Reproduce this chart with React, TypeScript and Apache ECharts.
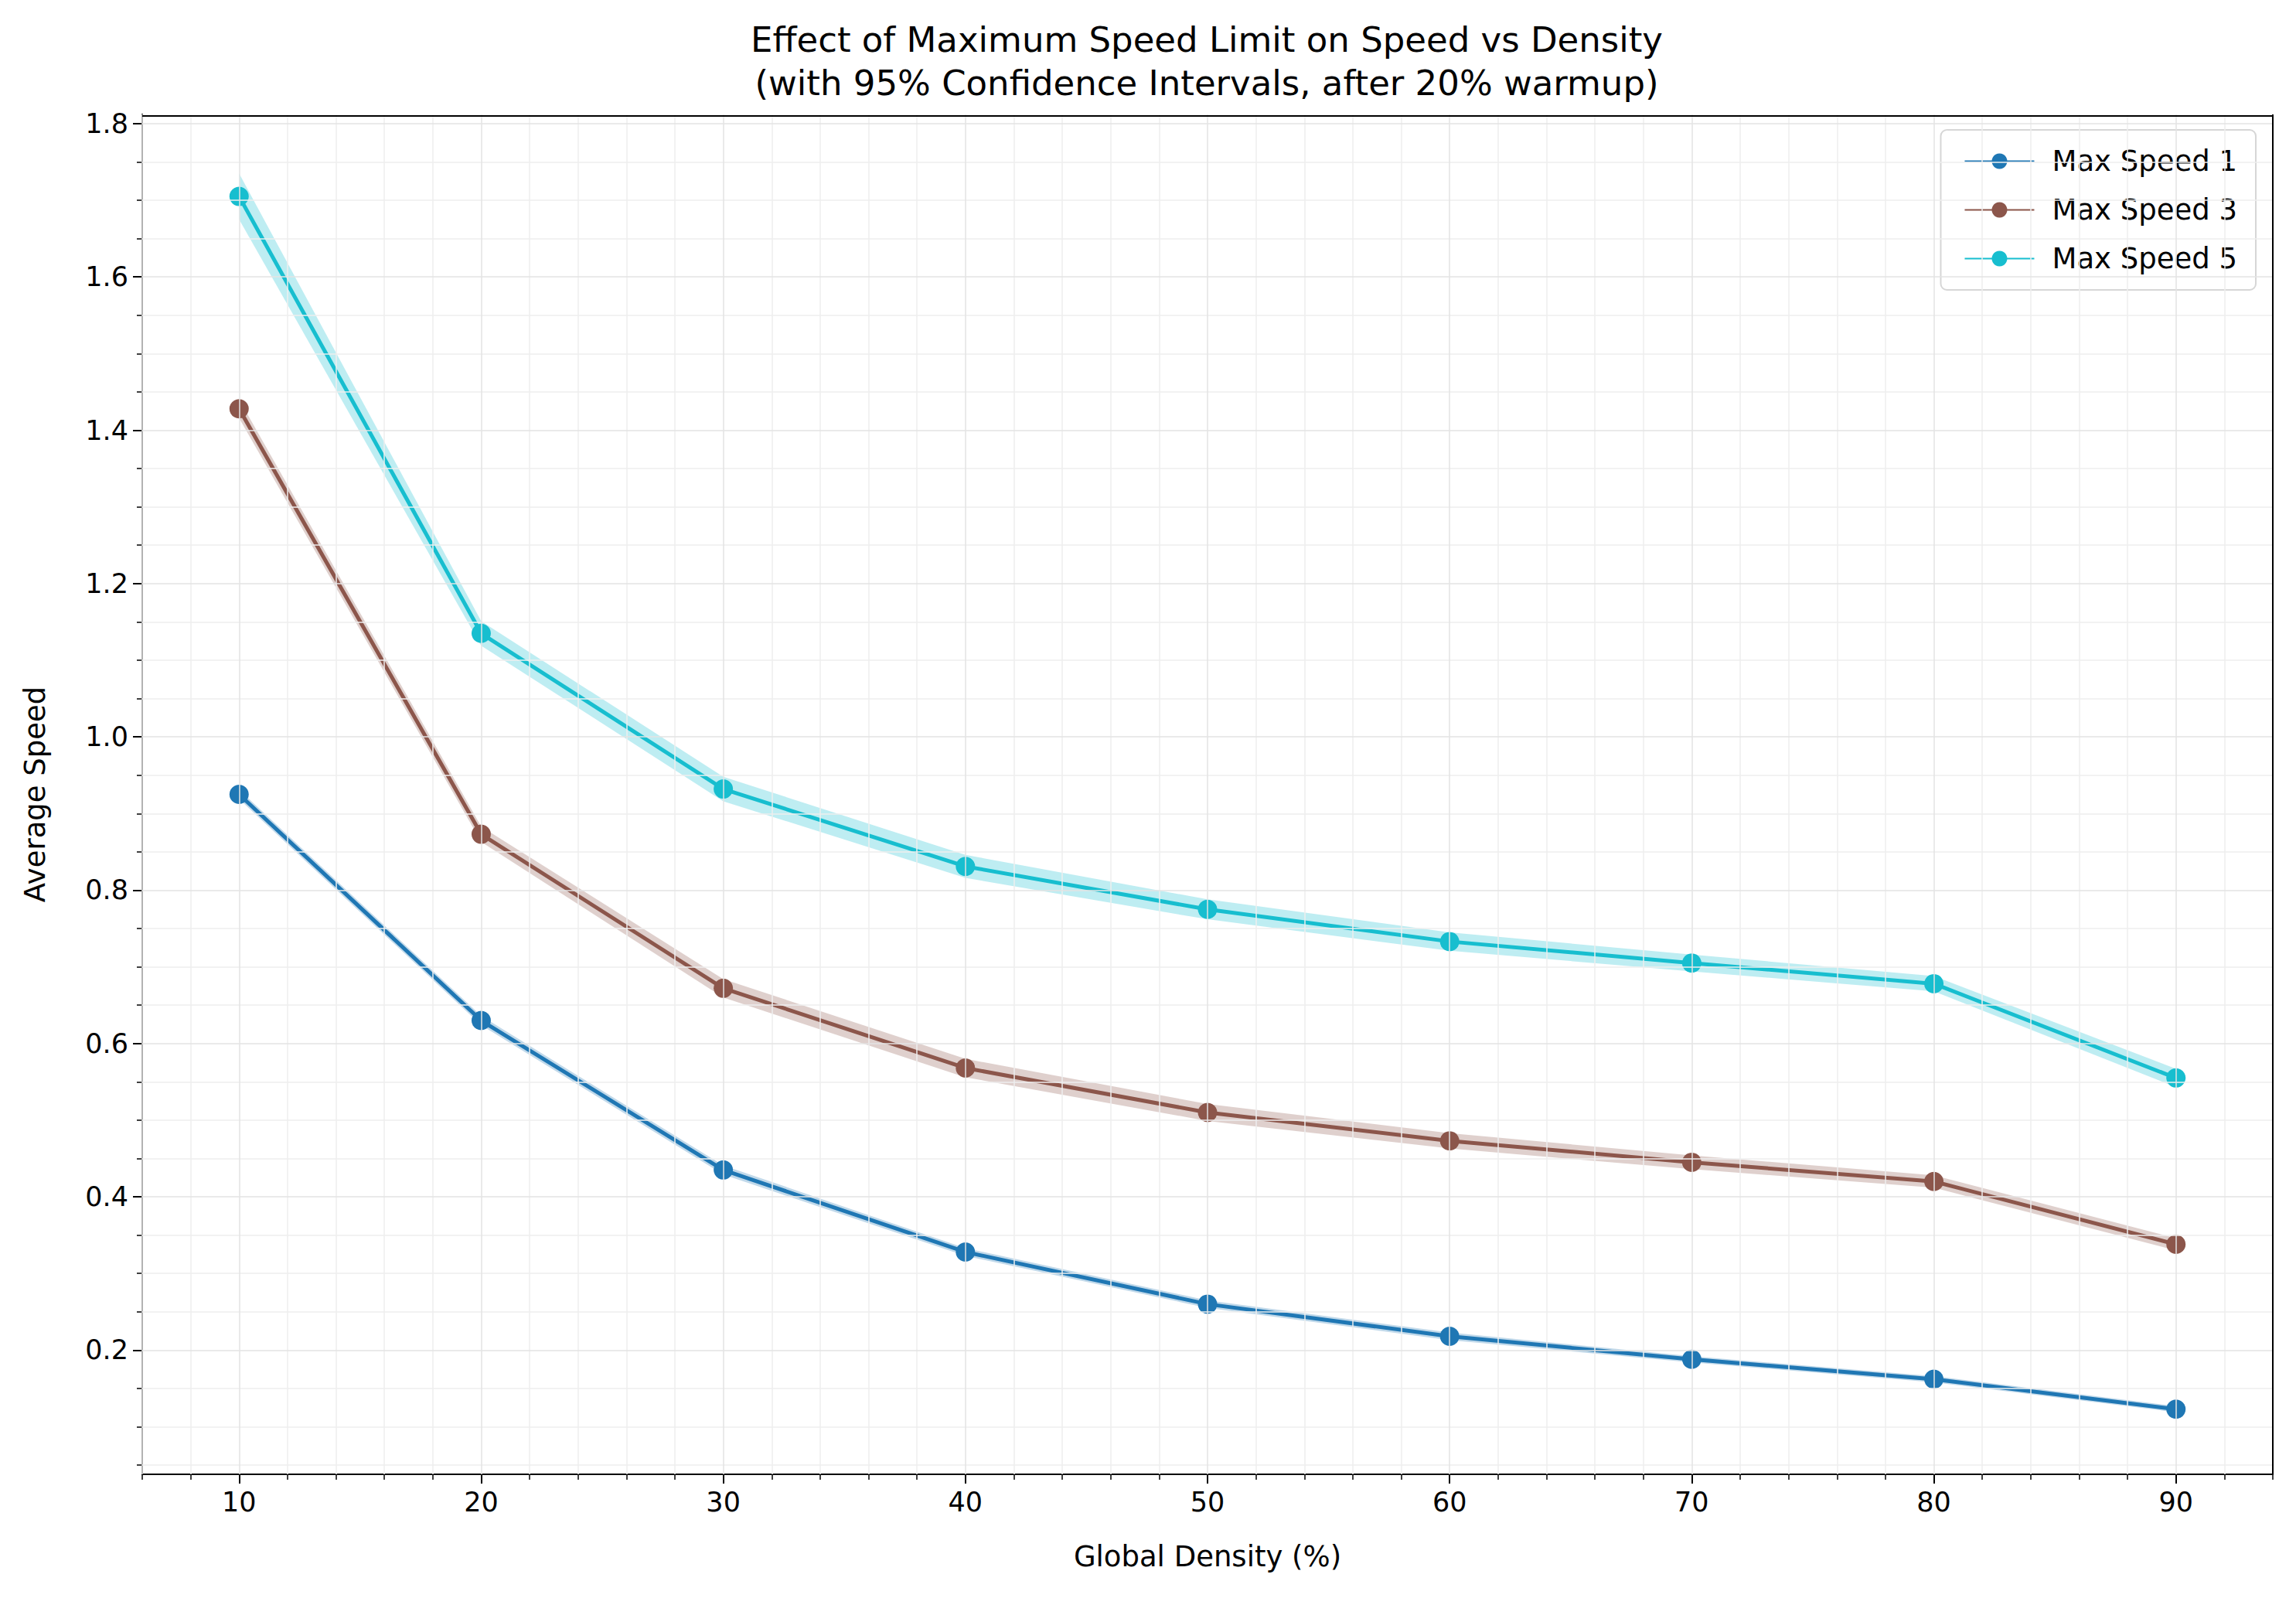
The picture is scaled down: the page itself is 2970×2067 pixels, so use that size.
import { useEffect, useRef } from 'react';
import * as echarts from 'echarts';

const densities = [10, 20, 30, 40, 50, 60, 70, 80, 90];
const speed1 = [0.925, 0.630, 0.435, 0.328, 0.260, 0.218, 0.188, 0.162, 0.123];
const speed3 = [1.428, 0.873, 0.672, 0.568, 0.510, 0.473, 0.445, 0.420, 0.338];
const speed5 = [1.705, 1.135, 0.932, 0.831, 0.775, 0.733, 0.705, 0.678, 0.555];
const ci1 = [0.006, 0.006, 0.006, 0.005, 0.005, 0.005, 0.004, 0.004, 0.004];
const ci3 = [0.012, 0.010, 0.012, 0.012, 0.011, 0.010, 0.009, 0.008, 0.008];
const ci5 = [0.030, 0.016, 0.016, 0.015, 0.013, 0.012, 0.011, 0.010, 0.012];
const xMajor = [10, 20, 30, 40, 50, 60, 70, 80, 90];
const yMajor = [0.2, 0.4, 0.6, 0.8, 1.0, 1.2, 1.4, 1.6, 1.8];
const xMinor = [6, 8, 12, 14, 16, 18, 22, 24, 26, 28, 32, 34, 36, 38, 42, 44, 46, 48, 52, 54, 56, 58, 62, 64, 66, 68, 72, 74, 76, 78, 82, 84, 86, 88, 92, 94];
const yMinor = [0.05, 0.1, 0.15, 0.25, 0.3, 0.35, 0.45, 0.5, 0.55, 0.65, 0.7, 0.75, 0.85, 0.9, 0.95, 1.05, 1.1, 1.15, 1.25, 1.3, 1.35, 1.45, 1.5, 1.55, 1.65, 1.7, 1.75];

const FONT = 'DejaVu Sans';

function bandSeries(name: string, vals: number[], ci: number[], color: string) {
  return [
    {
      name: name + ' CI',
      type: 'custom',
      clip: true,
      silent: true,
      z: 1,
      data: densities.slice(0, -1).map((d, i) => [d, vals[i] - ci[i], vals[i] + ci[i]]),
      renderItem: (params: any, api: any) => {
        const i = params.dataIndex;
        const pts = [
          api.coord([densities[i], vals[i] - ci[i]]),
          api.coord([densities[i + 1], vals[i + 1] - ci[i + 1]]),
          api.coord([densities[i + 1], vals[i + 1] + ci[i + 1]]),
          api.coord([densities[i], vals[i] + ci[i]]),
        ];
        return { type: 'polygon', shape: { points: pts }, style: { fill: color, opacity: 0.28 } };
      },
    },
    {
      name,
      type: 'line',
      data: densities.map((d, i) => [d, vals[i]]),
      symbol: 'circle',
      symbolSize: 25,
      itemStyle: { color },
      lineStyle: { color, width: 5 },
      z: 3,
    },
  ];
}

export default function App() {
  const ref = useRef<HTMLDivElement>(null);

  useEffect(() => {
    document.body.style.margin = '0';
    if (!ref.current) return;
    const chart = echarts.init(ref.current, null, { renderer: 'svg' });

    const gridLine = (color: string) => ({ silent: true, symbol: 'none', label: { show: false }, lineStyle: { color, type: 'solid', width: 1.5 } });

    const option: any = {
      animation: false,
      backgroundColor: '#fff',
      textStyle: { fontFamily: FONT },
      title: {
        text: 'Effect of Maximum Speed Limit on Speed vs Density\n(with 95% Confidence Intervals, after 20% warmup)',
        left: 1556,
        top: 18,
        textAlign: 'center',
        textStyle: { fontFamily: FONT, fontSize: 45, fontWeight: 'normal', color: '#000', lineHeight: 56 },
      },
      legend: {
        right: 52,
        top: 168,
        orient: 'vertical',
        data: ['Max Speed 1', 'Max Speed 3', 'Max Speed 5'],
        itemWidth: 90,
        itemHeight: 25,
        itemGap: 26,
        padding: [22, 24, 22, 30],
        borderColor: '#d6d6d6',
        borderWidth: 2,
        borderRadius: 8,
        backgroundColor: 'rgba(255,255,255,0.8)',
        textStyle: { fontFamily: FONT, fontSize: 37, color: '#000', padding: [0, 0, 0, 18] },
      },
      grid: { left: 184, right: 30, top: 148, bottom: 160, containLabel: false },
      xAxis: [
        {
          type: 'value',
          min: 6,
          max: 94,
          interval: 2,
          name: 'Global Density (%)',
          nameLocation: 'middle',
          nameGap: 88,
          nameTextStyle: { fontFamily: FONT, fontSize: 37, color: '#000' },
          axisLine: { show: true, onZero: false, lineStyle: { color: '#000', width: 2 } },
          axisTick: { show: true, customValues: xMajor, length: 12, lineStyle: { color: '#000', width: 2 } },
          axisLabel: { customValues: xMajor, fontFamily: FONT, fontSize: 35, color: '#000', margin: 18 },
          splitLine: { show: false },
        },
        {
          type: 'value',
          min: 6,
          max: 94,
          position: 'bottom',
          axisLine: { show: false },
          axisTick: { show: true, customValues: xMinor, length: 7, lineStyle: { color: '#000', width: 1.5 } },
          axisLabel: { show: false },
          splitLine: { show: false },
        },
      ],
      yAxis: [
        {
          type: 'value',
          min: 0.038,
          max: 1.812,
          name: 'Average Speed',
          nameLocation: 'middle',
          nameGap: 120,
          nameTextStyle: { fontFamily: FONT, fontSize: 37, color: '#000' },
          axisLine: { show: true, onZero: false, lineStyle: { color: '#000', width: 2 } },
          axisTick: { show: true, customValues: yMajor, length: 12, lineStyle: { color: '#000', width: 2 } },
          axisLabel: { customValues: yMajor, fontFamily: FONT, fontSize: 35, color: '#000', margin: 18, formatter: (v: number) => v.toFixed(1) },
          splitLine: { show: false },
        },
        {
          type: 'value',
          min: 0.038,
          max: 1.812,
          position: 'left',
          axisLine: { show: false },
          axisTick: { show: true, customValues: yMinor, length: 7, lineStyle: { color: '#000', width: 1.5 } },
          axisLabel: { show: false },
          splitLine: { show: false },
        },
      ],
      series: [
        {
          name: 'grid',
          type: 'line',
          data: [],
          silent: true,
          z: 0,
          markLine: {
            ...gridLine('#eeeeee'),
            data: [...xMinor.map((x) => ({ xAxis: x })), ...yMinor.map((y) => ({ yAxis: y }))],
          },
        },
        {
          name: 'gridMajor',
          type: 'line',
          data: [],
          silent: true,
          z: 0,
          markLine: {
            ...gridLine('#e3e3e3'),
            data: [...xMajor.map((x) => ({ xAxis: x })), ...yMajor.map((y) => ({ yAxis: y }))],
          },
        },
        ...bandSeries('Max Speed 1', speed1, ci1, '#1f77b4'),
        ...bandSeries('Max Speed 3', speed3, ci3, '#8c564b'),
        ...bandSeries('Max Speed 5', speed5, ci5, '#17becf'),
        {
          name: 'frame',
          type: 'line',
          data: [],
          silent: true,
          markLine: {
            silent: true,
            symbol: 'none',
            label: { show: false },
            lineStyle: { color: '#000', type: 'solid', width: 2 },
            data: [{ xAxis: 94 }, { yAxis: 1.812 }],
          },
        },
      ],
    };

    chart.setOption(option);
    return () => chart.dispose();
  }, []);

  return <div ref={ref} style={{ width: 2970, height: 2067 }} />;
}
